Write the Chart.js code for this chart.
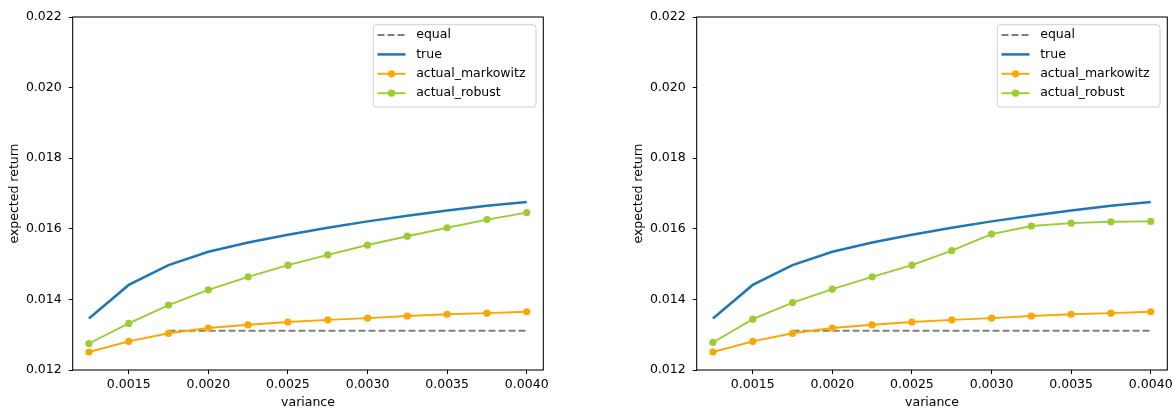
<!DOCTYPE html>
<html><head><meta charset="utf-8">
<script src="https://cdn.jsdelivr.net/npm/chart.js@4.4.1/dist/chart.umd.min.js"></script>
<style>
html,body{margin:0;padding:0;background:#fff;overflow:hidden;}
#wrap{position:relative;width:1173px;height:410px;}
#c1{position:absolute;left:0;top:0;width:624px;height:410px;}
#c2{position:absolute;left:624px;top:0;width:549px;height:410px;}
</style></head><body>
<div id="wrap"><canvas id="c1" width="624" height="410"></canvas><canvas id="c2" width="549" height="410"></canvas></div>
<script>
// ---- data ----
const variance = [0.00125,0.0015,0.00175,0.0020,0.00225,0.0025,0.00275,0.0030,0.00325,0.0035,0.00375,0.0040];
const equalVariance = [0.00175,0.0020,0.00225,0.0025,0.00275,0.0030,0.00325,0.0035,0.00375,0.0040];
const equalReturn = [0.01311,0.01311,0.01311,0.01311,0.01311,0.01311,0.01311,0.01311,0.01311,0.01311];
const trueReturn = [0.01346,0.01441,0.01497,0.01535,0.01561,0.01583,0.01603,0.01621,0.01637,0.01652,0.01665,0.01676];
const markowitzLeft = [0.01251,0.01281,0.01304,0.01319,0.01328,0.01336,0.01342,0.01347,0.01353,0.01358,0.01361,0.01365];
const robustLeft = [0.01275,0.01332,0.01384,0.01427,0.01464,0.01497,0.01526,0.01554,0.01579,0.01603,0.01626,0.01646];
const markowitzRight = [0.01251,0.01281,0.01304,0.01319,0.01328,0.01336,0.01342,0.01347,0.01353,0.01358,0.01361,0.01365];
const robustRight = [0.01278,0.01344,0.01391,0.01429,0.01464,0.01497,0.01538,0.01585,0.01608,0.01616,0.01620,0.01621];
const xTicks = [0.0015,0.0020,0.0025,0.0030,0.0035,0.0040];
const yTicks = [0.012,0.014,0.016,0.018,0.020,0.022];
const seriesLabels = ['equal','true','actual_markowitz','actual_robust'];
const xTitle = 'variance';
const yTitle = 'expected return';

const FONT = 'DejaVu Sans';
const FS = 12.5;
const colors = {equal:'#808080', true:'#1f77b4', actual_markowitz:'#ffa500', actual_robust:'#9acd32'};

function pts(xs, ys){ return xs.map((x,i)=>({x:x, y:ys[i]})); }

const spinePlugin = {
  id:'spines',
  afterDraw(chart){
    const a = chart.chartArea, ctx = chart.ctx;
    ctx.save();
    ctx.strokeStyle = '#000';
    ctx.lineWidth = 1.05;
    ctx.strokeRect(a.left, a.top, a.right-a.left, a.bottom-a.top);
    ctx.restore();
  }
};

const legendPlugin = {
  id:'mplLegend',
  afterDraw(chart){
    const a = chart.chartArea, ctx = chart.ctx;
    const entries = chart.config.options.plugins.mplLegend.entries;
    ctx.save();
    ctx.font = FS + 'px "' + FONT + '"';
    let maxW = 0;
    entries.forEach(e=>{ maxW = Math.max(maxW, ctx.measureText(e.label).width); });
    const textOff = 43, boxW = textOff + maxW + 10.5, boxH = 82.3;
    const right = a.right - 7.3, top = a.top + 7.7, left = right - boxW;
    ctx.beginPath();
    ctx.roundRect(left, top, boxW, boxH, 3);
    ctx.fillStyle = 'rgba(255,255,255,0.8)';
    ctx.fill();
    ctx.strokeStyle = '#d0d0d0';
    ctx.lineWidth = 1;
    ctx.stroke();
    entries.forEach((e,i)=>{
      const cy = top + 10.3 + i*19.4;
      ctx.beginPath();
      ctx.setLineDash(e.dash || []);
      ctx.strokeStyle = e.color;
      ctx.lineWidth = e.width;
      ctx.moveTo(left+4.3, cy);
      ctx.lineTo(left+32.3, cy);
      ctx.stroke();
      ctx.setLineDash([]);
      if (e.marker){
        ctx.beginPath();
        ctx.fillStyle = e.color;
        ctx.arc(left+18.3, cy, 3.6, 0, Math.PI*2);
        ctx.fill();
      }
      ctx.fillStyle = '#000';
      ctx.textBaseline = 'middle';
      ctx.textAlign = 'left';
      ctx.fillText(e.label, left+textOff, cy);
    });
    ctx.restore();
  }
};

function makeChart(id, markowitz, robust, padRight){
  const datasets = [
    {label:seriesLabels[0], data:pts(equalVariance,equalReturn), borderColor:colors.equal, borderWidth:1.9, borderDash:[7,3], pointRadius:0, order:4},
    {label:seriesLabels[1], data:pts(variance,trueReturn), borderColor:colors.true, borderWidth:2.5, pointRadius:0, order:3},
    {label:seriesLabels[2], data:pts(variance,markowitz), borderColor:colors.actual_markowitz, backgroundColor:colors.actual_markowitz, borderWidth:1.9, pointRadius:3.6, pointBorderWidth:0, pointBackgroundColor:colors.actual_markowitz, order:2},
    {label:seriesLabels[3], data:pts(variance,robust), borderColor:colors.actual_robust, backgroundColor:colors.actual_robust, borderWidth:1.9, pointRadius:3.6, pointBorderWidth:0, pointBackgroundColor:colors.actual_robust, order:1}
  ];
  const entries = [
    {label:seriesLabels[0], color:colors.equal, width:1.9, dash:[7,3], marker:false},
    {label:seriesLabels[1], color:colors.true, width:2.5, marker:false},
    {label:seriesLabels[2], color:colors.actual_markowitz, width:1.9, marker:true},
    {label:seriesLabels[3], color:colors.actual_robust, width:1.9, marker:true}
  ];
  return new Chart(document.getElementById(id), {
    type:'line',
    data:{datasets},
    options:{
      responsive:false, animation:false, devicePixelRatio:1,
      layout:{padding:{left:0, right:padRight, top:17, bottom:0}},
      plugins:{legend:{display:false}, tooltip:{enabled:false}, mplLegend:{entries}},
      elements:{line:{tension:0, fill:false}},
      scales:{
        x:{type:'linear', min:0.001148, max:0.004104,
          afterBuildTicks:s=>{ s.ticks = xTicks.map(v=>({value:v})); },
          afterFit:s=>{ s.height = 40; s.paddingLeft=0; s.paddingRight=0; },
          ticks:{callback:v=>v.toFixed(4), font:{family:FONT,size:FS}, color:'#000', padding:3, maxRotation:0, autoSkip:false, includeBounds:false},
          grid:{drawOnChartArea:false, drawTicks:true, tickLength:4, color:'#000', lineWidth:1},
          border:{display:false},
          title:{display:true, text:xTitle, font:{family:FONT,size:FS}, color:'#000', padding:{top:0,bottom:0}}
        },
        y:{type:'linear', min:0.012, max:0.022,
          afterBuildTicks:s=>{ s.ticks = yTicks.map(v=>({value:v})); },
          afterFit:s=>{ s.width = 72.7; s.paddingTop=0; s.paddingBottom=0; },
          ticks:{callback:v=>v.toFixed(3), font:{family:FONT,size:FS}, color:'#000', padding:7, autoSkip:false, includeBounds:false},
          grid:{drawOnChartArea:false, drawTicks:true, tickLength:4, color:'#000', lineWidth:1},
          border:{display:false},
          title:{display:true, text:yTitle, font:{family:FONT,size:FS}, color:'#000', padding:{top:7,bottom:0}}
        }
      }
    },
    plugins:[spinePlugin, legendPlugin]
  });
}

makeChart('c1', markowitzLeft, robustLeft, 624-543.3);
makeChart('c2', markowitzRight, robustRight, 549-543.3);
</script>
</body></html>
